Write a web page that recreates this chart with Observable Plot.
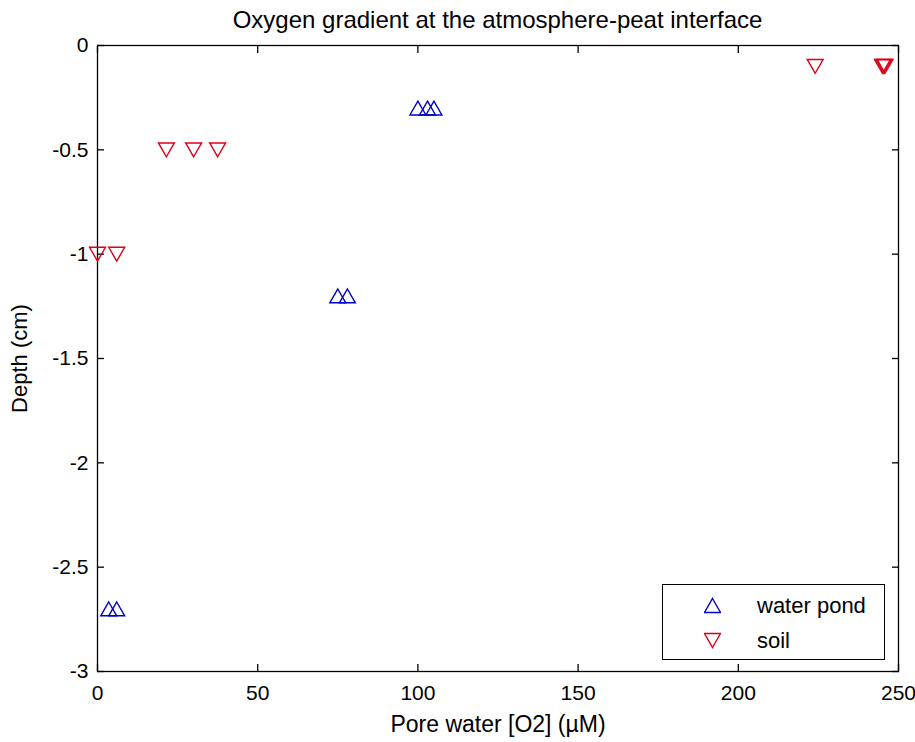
<!DOCTYPE html>
<html>
<head>
<meta charset="utf-8">
<script src="https://cdn.jsdelivr.net/npm/d3@7"></script>
<script src="https://cdn.jsdelivr.net/npm/@observablehq/plot@0.6"></script>
<style>
  body { margin: 0; background: #fff; }
  #chart { position: relative; width: 915px; height: 742px; font-family: "Liberation Sans", Arial, sans-serif; color: #000; }
  #title { height: 30px; line-height: 30px; padding-top: 5px; text-align: center; font-size: 24px;
           padding-left: 80px; white-space: nowrap; }
  #legend { position: absolute; left: 662px; top: 584px; width: 221px; height: 74px;
            border: 1.3px solid #000; background: #fff; font-size: 22px; }
  #legend .item { position: absolute; left: 0; height: 34px; line-height: 34px; }
  #legend svg { position: absolute; left: 41px; top: 8px; }
  #legend span { position: absolute; left: 94px; white-space: nowrap; }
</style>
</head>
<body>
<div id="chart">
  <div id="title">Oxygen gradient at the atmosphere-peat interface</div>
</div>
<script>
// values
const pondO2 = [100, 103, 105, 75, 78, 3.5, 6];
const pondDepth = [-0.3, -0.3, -0.3, -1.2, -1.2, -2.7, -2.7];
const soilO2 = [224, 245, 245.4, 245.8, 21.5, 30, 37.5, 0, 6];
const soilDepth = [-0.1, -0.1, -0.1, -0.1, -0.5, -0.5, -0.5, -1, -1];

const xTicks = [0, 50, 100, 150, 200, 250];
const yTicks = [0, -0.5, -1, -1.5, -2, -2.5, -3];

const seriesNames = ["water pond", "soil"];
const seriesColors = ["#0000cc", "#dd0018"];

// MATLAB-like triangles, centred on their bounding box
const triUp = {
  draw(ctx, size) {
    const r = Math.sqrt(size / Math.PI), w = r * 1.33, h = r * 1.15;
    ctx.moveTo(0, -h); ctx.lineTo(w, h); ctx.lineTo(-w, h); ctx.closePath();
  }
};
const triDown = {
  draw(ctx, size) {
    const r = Math.sqrt(size / Math.PI), w = r * 1.33, h = r * 1.15;
    ctx.moveTo(0, h); ctx.lineTo(w, -h); ctx.lineTo(-w, -h); ctx.closePath();
  }
};

const pond = pondO2.map((x, i) => ({x, depth: pondDepth[i]}));
const soil = soilO2.map((x, i) => ({x, depth: soilDepth[i]}));

const fmt = d => String(d);

const plot = Plot.plot({
  width: 915,
  height: 707,
  marginTop: 10,
  marginLeft: 97,
  marginRight: 17,
  marginBottom: 71,
  x: {domain: [0, 250]},
  y: {domain: [-3, 0]},
  style: {fontFamily: "'Liberation Sans', Arial, sans-serif", fontSize: "21px", color: "#000", background: "#fff", overflow: "visible"},
  marks: [
    Plot.frame({stroke: "#000", strokeWidth: 1.3}),
    Plot.axisX(xTicks, {anchor: "bottom", tickSize: -7, tickPadding: 21, tickFormat: fmt, strokeWidth: 1.3,
      label: null, fontSize: 21}),
    Plot.axisX({anchor: "bottom", ticks: [], label: "Pore water [O2] (µM)", labelAnchor: "center",
      labelArrow: "none", labelOffset: 60, fontSize: 23}),
    Plot.axisX(xTicks, {anchor: "top", tickSize: -7, tickFormat: () => "", strokeWidth: 1.3, label: null}),
    Plot.axisY(yTicks, {anchor: "left", tickSize: -7, tickPadding: 16, tickFormat: fmt, strokeWidth: 1.3,
      label: null, fontSize: 21}),
    Plot.axisY({anchor: "left", ticks: [], label: "Depth (cm)", labelAnchor: "center",
      labelArrow: "none", labelOffset: 86, fontSize: 22}),
    Plot.axisY(yTicks, {anchor: "right", tickSize: -7, tickFormat: () => "", strokeWidth: 1.3, label: null}),
    Plot.dot(pond, {x: "x", y: "depth", symbol: triUp, r: 6, stroke: seriesColors[0], strokeWidth: 1.4, fill: "none"}),
    Plot.dot(soil, {x: "x", y: "depth", symbol: triDown, r: 6, stroke: seriesColors[1], strokeWidth: 1.4, fill: "none"})
  ]
});

const chart = document.getElementById("chart");
chart.appendChild(plot);

// legend box inside the axes, bottom right (as in the MATLAB figure)
const legend = document.createElement("div");
legend.id = "legend";
const paths = ["M8,1 L16,15 L0,15 Z", "M8,15 L16,1 L0,1 Z"];
seriesNames.forEach((name, i) => {
  const item = document.createElement("div");
  item.className = "item";
  item.style.top = (4 + i * 35) + "px";
  item.style.width = "100%";
  item.innerHTML = `<svg width="17" height="17" viewBox="-0.5 -0.5 17 17"><path d="${paths[i]}" fill="none" stroke="${seriesColors[i]}" stroke-width="1.4"/></svg><span>${name}</span>`;
  legend.appendChild(item);
});
chart.appendChild(legend);
</script>
</body>
</html>
